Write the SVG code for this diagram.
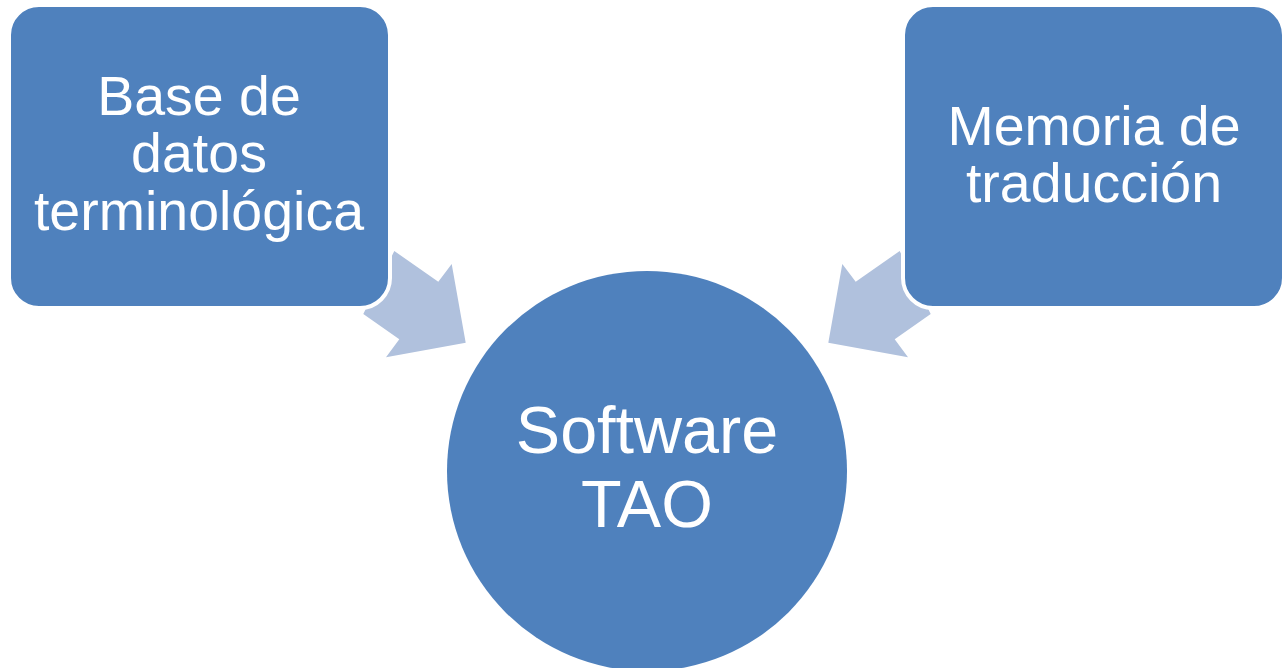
<svg xmlns="http://www.w3.org/2000/svg" width="1286" height="668" viewBox="0 0 1286 668">
<style>
.node{fill:#4F81BD;stroke:#FFFFFF;stroke-width:4}
.arrow{fill:#B0C1DD}
.lbl{fill:#FFFFFF;font-family:"Liberation Sans",Arial,sans-serif;text-anchor:middle}
.sm{font-size:55.5px}
.lg{font-size:66.5px}
</style>
<rect width="1286" height="668" fill="#FFFFFF"/>
<g id="connectors">
<polygon class="arrow" points="394.3,251 438.3,281.7 451.7,264 465.7,342.7 386,357.3 399.3,339.3 363.3,314"/>
<polygon class="arrow" points="899.7,251 855.7,281.7 842.3,264 828.3,342.7 908,357.3 894.7,339.3 930.7,314"/>
</g>
<g id="node-base">
<rect class="node" x="9" y="5" width="381" height="303" rx="30" ry="30"/>
<text class="lbl sm" x="199" y="115">Base de</text>
<text class="lbl sm" x="199" y="172">datos</text>
<text class="lbl sm" x="199" y="230">terminológica</text>
</g>
<g id="node-memoria">
<rect class="node" x="903" y="5" width="381" height="303" rx="30" ry="30"/>
<text class="lbl sm" x="1094" y="145">Memoria de</text>
<text class="lbl sm" x="1094" y="202">traducción</text>
</g>
<g id="node-software">
<circle cx="647" cy="471" r="200" fill="#4F81BD"/>
<text class="lbl lg" x="647" y="453">Software</text>
<text class="lbl lg" x="647" y="527">TAO</text>
</g>
</svg>
